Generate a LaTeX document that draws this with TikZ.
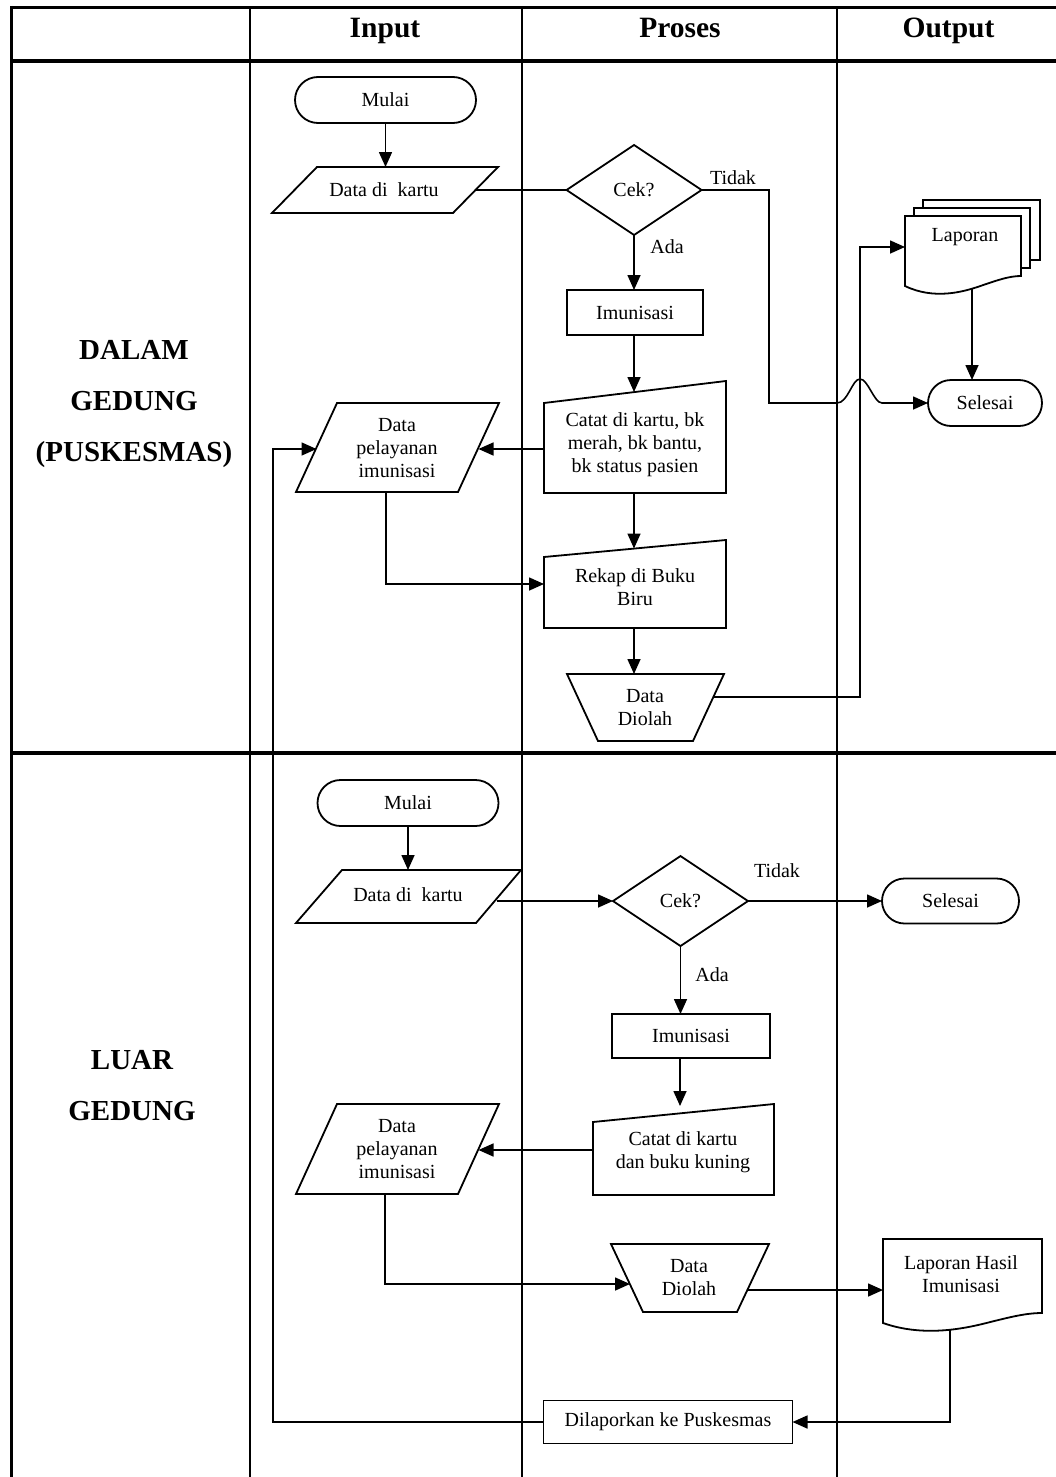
\documentclass[tikz,border=0pt]{standalone}
\usepackage{fontspec}
\setmainfont{Liberation Serif}
\usetikzlibrary{arrows.meta,shapes.geometric}
\begin{document}
\begin{tikzpicture}[x=1pt,y=-1pt,
  every node/.style={inner sep=0pt, outer sep=0pt},
  txt/.style={font=\fontsize{20}{23}\selectfont, align=center},
  hdr/.style={font=\fontsize{29.5}{32}\selectfont\bfseries},
  side/.style={font=\fontsize{29}{51}\selectfont\bfseries, align=center},
  shp/.style={draw, line width=1.8pt, line join=miter},
  term/.style={txt, shp, rounded corners=23pt},
  rectbox/.style={txt, shp},
  dia/.style={txt, shp, diamond, aspect=1.5, minimum width=135pt, minimum height=90pt},
  con/.style={line width=1.6pt},
  arr/.style={con, -{Triangle[length=15pt,width=13pt]}},
  hline/.style={line width=3.2pt},
  vline/.style={line width=2.4pt}
]
\useasboundingbox (0,0) rectangle (1056,1477);

% ---------- table grid ----------
\draw[hline] (10,7.5) -- (1056,7.5);
\draw[hline] (10,61) -- (1056,61);
\draw[hline] (10,753) -- (1056,753);
\draw[line width=3pt] (11.5,6) -- (11.5,1477);
\draw[vline] (250,7.5) -- (250,1477);
\draw[vline] (522,7.5) -- (522,1477);
\draw[vline] (837,7.5) -- (837,1477);

% ---------- headers ----------
\node[hdr, anchor=base] (hinput) at (385,37.5) {Input};
\node[hdr, anchor=base] (hproses) at (680,37.5) {Proses};
\node[hdr, anchor=base] (houtput) at (948.5,37.5) {Output};

% ---------- row labels ----------
\node[side] (dalam) at (134,404) {DALAM\\GEDUNG\\(PUSKESMAS)};
\node[side] (luar) at (132,1086) {LUAR\\GEDUNG};

% =========== DALAM GEDUNG ===========
\node[term, minimum width=181pt, minimum height=46pt] (mulai1) at (385.5,100) {Mulai};

\draw[shp] (317,167) -- (498,167) -- (453,213) -- (272,213) -- cycle;
\node[txt] (data1) at (384,190) {Data di~ kartu};
\coordinate (data1n) at (385.5,167);
\coordinate (data1e) at (475.5,190);

\node[dia] (cek1) at (634,190) {Cek?};
\node[txt, anchor=base] (tidak1) at (733,184) {Tidak};
\node[txt, anchor=base] (ada1) at (667,253) {Ada};

\node[rectbox, minimum width=136pt, minimum height=45pt] (imun1) at (635,312.5) {Imunisasi};

\draw[shp] (544,403) -- (726,381) -- (726,493) -- (544,493) -- cycle;
\node[txt] (catat1) at (635,445) {Catat di kartu, bk\\merah, bk bantu,\\bk status pasien};
\coordinate (catat1n) at (634,392);
\coordinate (catat1w) at (544,449);
\coordinate (catat1s) at (634,493);

\draw[shp] (337,403) -- (499,403) -- (458,492) -- (296,492) -- cycle;
\node[txt] (dp1) at (397,448) {Data\\pelayanan\\imunisasi};
\coordinate (dp1e) at (478.5,449);
\coordinate (dp1w) at (316.5,449);
\coordinate (dp1s) at (386,492);

\draw[shp] (544,557) -- (726,540) -- (726,628) -- (544,628) -- cycle;
\node[txt] (rekap1) at (635,587) {Rekap di Buku\\Biru};
\coordinate (rekap1n) at (634,548.5);
\coordinate (rekap1w) at (544,584);
\coordinate (rekap1s) at (634,628);

\draw[shp] (567,674) -- (724,674) -- (693,741) -- (598,741) -- cycle;
\node[txt] (dd1) at (645,708) {Data\\Diolah};
\coordinate (dd1n) at (634,674);
\coordinate (dd1e) at (713.5,697);

% stacked report documents
\draw[shp] (923,208) -- (923,200) -- (1040,200) -- (1040,260) -- (1030,260);
\draw[shp] (914,216) -- (914,208) -- (1030,208) -- (1030,268) -- (1021,268);
\draw[shp] (905,216) -- (1021,216) -- (1021,276)
  .. controls (1009.4,276) and (997.8,280) .. (980.4,286)
  .. controls (963,292) and (934,300) .. (905,286) -- cycle;
\node[txt] (lap1) at (965,237) {Laporan};
\coordinate (lap1w) at (905,247);
\coordinate (lap1s) at (972,289);

\node[term, minimum width=114pt, minimum height=46pt] (sel1) at (985,403) {Selesai};

% connectors
\draw[arr] (mulai1.south) -- (data1n);
\draw[con] (data1e) -- (cek1.west);
\draw[arr] (cek1.south) -- (cek1.south |- imun1.north);
\draw[arr] (imun1.south -| catat1n) -- (catat1n);
\draw[arr] (catat1w) -- (dp1e);
\draw[arr] (catat1s) -- (rekap1n);
\draw[arr] (dp1s) |- (rekap1w);
\draw[arr] (rekap1s) -- (dd1n);
\coordinate (up1) at (860,697);
\draw[arr] (dd1e) -- (up1) |- (lap1w);
\draw[arr] (lap1s) -- (lap1s |- sel1.north);
\coordinate (tk1) at (769,190);
\coordinate (tk2) at (769,403);
\coordinate (hop1) at (837,403);
\coordinate (hop2) at (882,403);
\draw[arr] (cek1.east) -- (tk1) -- (tk2) -- (hop1)
  .. controls (848,403) and (852,379) .. (860,379)
  .. controls (868,379) and (874,403) .. (hop2) -- (sel1.west);

% =========== LUAR GEDUNG ===========
\node[term, minimum width=181pt, minimum height=46pt] (mulai2) at (408,803) {Mulai};

\draw[shp] (342,870) -- (521,870) -- (476,923) -- (296,923) -- cycle;
\node[txt] (data2) at (408,895) {Data di~ kartu};
\coordinate (data2n) at (408,870);
\coordinate (data2e) at (497,901);

\node[dia] (cek2) at (680.5,901) {Cek?};
\node[txt, anchor=base] (tidak2) at (777,877) {Tidak};
\node[txt, anchor=base] (ada2) at (712,981) {Ada};

\node[term, minimum width=137pt, minimum height=45pt, rounded corners=22.5pt] (sel2) at (950.5,901) {Selesai};

\node[rectbox, minimum width=158pt, minimum height=44pt] (imun2) at (691,1036) {Imunisasi};

\draw[shp] (593,1122) -- (774,1104) -- (774,1195) -- (593,1195) -- cycle;
\node[txt] (catat2) at (683,1152) {Catat di kartu\\dan buku kuning};
\coordinate (catat2n) at (680,1106);
\coordinate (catat2w) at (593,1150);

\draw[shp] (337,1104) -- (499,1104) -- (458,1194) -- (296,1194) -- cycle;
\node[txt] (dp2) at (397,1149) {Data\\pelayanan\\imunisasi};
\coordinate (dp2e) at (478.5,1150);
\coordinate (dp2s) at (385,1194);

\draw[shp] (611,1244) -- (769,1244) -- (737,1312) -- (643,1312) -- cycle;
\node[txt] (dd2) at (689,1278) {Data\\Diolah};
\coordinate (dd2w) at (630,1284);
\coordinate (dd2e) at (748,1290);

\draw[shp] (883,1239) -- (1042,1239) -- (1042,1313)
  .. controls (1026.1,1313) and (1010.2,1317) .. (986.4,1323)
  .. controls (962.5,1329) and (922.8,1337) .. (883,1323) -- cycle;
\node[txt] (lap2) at (961,1274) {Laporan Hasil\\Imunisasi};
\coordinate (lap2w) at (883,1290);
\coordinate (lap2s) at (950,1330);

\node[rectbox, minimum width=249pt, minimum height=43pt] (dil) at (668,1422) {Dilaporkan ke Puskesmas};

% connectors
\draw[arr] (mulai2.south) -- (data2n);
\draw[arr] (data2e) -- (cek2.west);
\draw[arr] (cek2.east) -- (sel2.west);
\draw[arr] (cek2.south) -- (cek2.south |- imun2.north);
\draw[arr] (imun2.south -| catat2n) -- (catat2n);
\draw[arr] (catat2w) -- (dp2e);
\draw[arr] (dp2s) |- (dd2w);
\draw[arr] (dd2e) -- (lap2w);
\draw[arr] (lap2s) |- (dil.east);

% report sent back to the health centre
\coordinate (ret) at (273,1422);
\draw[arr] (dil.west) -- (ret) |- (dp1w);
\end{tikzpicture}
\end{document}
